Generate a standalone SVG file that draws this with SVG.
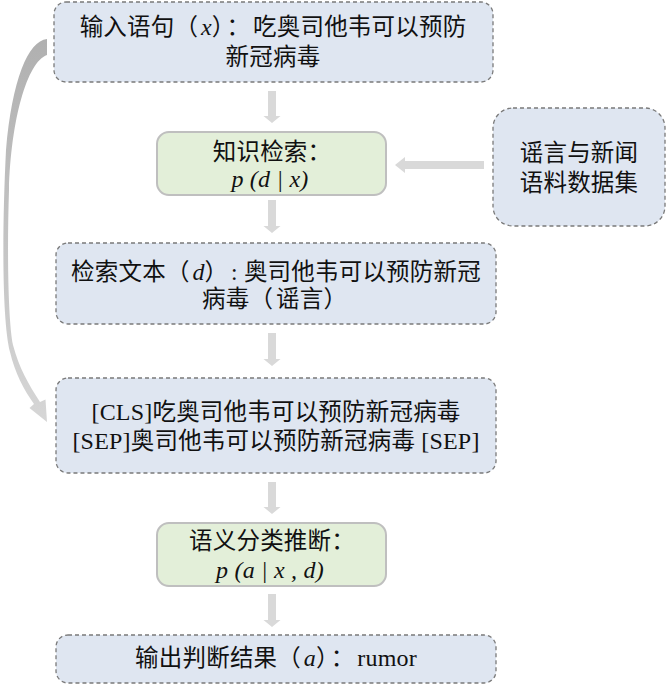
<svg xmlns="http://www.w3.org/2000/svg" width="666" height="688" viewBox="0 0 666 688">
<defs>
<style>
.blue{fill:#dfe6f1;stroke:#7a7a7a;stroke-width:1.3;stroke-dasharray:4 3}
.green{fill:#e3efd9;stroke:#bfbfbf;stroke-width:2}
.t{font-family:"Liberation Serif","Noto Sans CJK SC",serif;font-size:23.5px;letter-spacing:0.2px;fill:#111;text-anchor:middle}
.l{font-size:24px}
.i{font-style:italic;font-size:24px}
.p{letter-spacing:3px}
.arr{fill:#d9d9d9}
</style>
<linearGradient id="cg" gradientUnits="userSpaceOnUse" x1="0" y1="40" x2="0" y2="422">
<stop offset="0" stop-color="#b0b0b0"/>
<stop offset="1" stop-color="#d6d6d6"/>
</linearGradient>
</defs>
<rect width="666" height="688" fill="#fff"/>
<g id="connectors">
<path class="arr" d="M268,91 H276 V116 H280.5 L272,123 L263.5,116 H268 Z"/>
<path class="arr" d="M268,200 H276 V226 H280.5 L272,233 L263.5,226 H268 Z"/>
<path class="arr" d="M268,333 H276 V359 H280.5 L272,366 L263.5,359 H268 Z"/>
<path class="arr" d="M268,482 H276 V507 H280.5 L272,514 L263.5,507 H268 Z"/>
<path class="arr" d="M268,594 H276 V620 H280.5 L272,627 L263.5,620 H268 Z"/>
<path class="arr" d="M484,161 V169 H405 V173 L395,165 L405,157 V161 Z"/>
<path fill="url(#cg)" d="M47,39 C28,41 12,80 6,150 C2,230 2,320 10,352 C15,373 24,390 34,404 L29.5,408 L47,422 L45.5,399.5 L40,402 C29,385 19,368 13,345 C8,320 7,250 9,190 C11,120 27,62 47,55 Z"/>
</g>
<g id="input">
<rect class="blue" x="54" y="2" width="439" height="80" rx="12"/>
<text class="t" x="273" y="35">输入语句<tspan class="p">（</tspan><tspan class="i">x</tspan><tspan class="p">）：</tspan>吃奥司他韦可以预防</text>
<text class="t" x="273" y="65">新冠病毒</text>
</g>
<g id="retrieval">
<rect class="green" x="157" y="132" width="229" height="63" rx="12"/>
<text class="t" x="272" y="160">知识检索：</text>
<text class="t i" x="270" y="187">p (d | x)</text>
</g>
<g id="corpus">
<rect class="blue" x="493" y="108" width="172" height="118" rx="20"/>
<text class="t" x="579" y="161">谣言与新闻</text>
<text class="t" x="579" y="191">语料数据集</text>
</g>
<g id="retrieved">
<rect class="blue" x="56" y="243" width="440" height="81" rx="12"/>
<text class="t" x="276" y="280">检索文本<tspan class="p">（</tspan><tspan class="i">d</tspan><tspan class="p">）</tspan>: 奥司他韦可以预防新冠</text>
<text class="t" x="276" y="307">病毒<tspan class="p">（</tspan>谣言<tspan class="p">）</tspan></text>
</g>
<g id="concat">
<rect class="blue" x="56" y="378" width="440" height="95" rx="12"/>
<text class="t" x="276" y="420"><tspan class="l">[CLS]</tspan>吃奥司他韦可以预防新冠病毒</text>
<text class="t" x="276" y="449"><tspan class="l">[SEP]</tspan>奥司他韦可以预防新冠病毒 <tspan class="l">[SEP]</tspan></text>
</g>
<g id="inference">
<rect class="green" x="157" y="523" width="229" height="63" rx="12"/>
<text class="t" x="272" y="549">语义分类推断：</text>
<text class="t i" x="270" y="578">p (a | x , d)</text>
</g>
<g id="output">
<rect class="blue" x="56" y="635" width="440" height="48" rx="12"/>
<text class="t" x="276" y="666">输出判断结果<tspan class="p">（</tspan><tspan class="i">a</tspan><tspan class="p">）：</tspan><tspan class="l">rumor</tspan></text>
</g>
</svg>
